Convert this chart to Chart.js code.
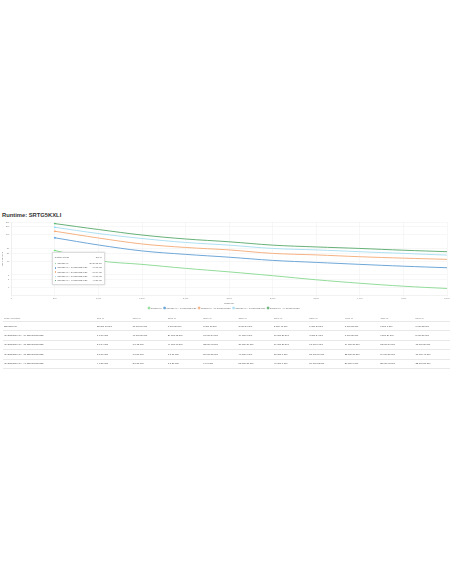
<!DOCTYPE html>
<html>
<head>
<meta charset="utf-8">
<script src="https://cdn.jsdelivr.net/npm/chart.js@4.4.0/dist/chart.umd.min.js"></script>
<style>
  body { margin: 0; background: #fff; font-family: "Liberation Sans", Arial, sans-serif; width: 452px; height: 584px; overflow: hidden; position: relative; }
  #title { position: absolute; left: 2px; top: 211.5px; font-size: 5.8px; font-weight: bold; color: #333; }
  #wrap { position: absolute; left: 0; top: 219px; width: 452px; height: 100px; }
  #tip { position: absolute; background: #fff; border: 0.5px solid #ddd; box-shadow: 0 0 2px rgba(0,0,0,0.15); font-size: 2px; color: #555; padding: 2px 2px; display: none; width: 47px; }
  #tip .r { display: flex; justify-content: space-between; height: 4.3px; line-height: 4.3px; white-space: nowrap; }
  #tip .h { margin-bottom: 1.8px; }
  #tip i { display: inline-block; width: 1.6px; height: 1.6px; margin-right: 1px; vertical-align: middle; }
  #tbl { position: absolute; left: 3px; top: 315px; width: 447px; border-collapse: collapse; font-size: 2.4px; color: #444; }
  #tbl td, #tbl th { text-align: left; font-weight: normal; height: 8.4px; padding: 0 0 0 1px; border-bottom: 0.5px solid #e8e8e8; white-space: nowrap; }
  #tbl th { color: #777; height: 6px; }
  #tbl td:first-child, #tbl th:first-child { width: 92px; }
</style>
</head>
<body>
<div id="title">Runtime: SRTG5KXLI</div>
<div id="wrap"><canvas id="runtimeChart"></canvas></div>
<div id="tip"></div>
<table id="tbl"></table>
<script>
// Last in Watt
const loads = [500, 1000, 1500, 2000, 2500, 3000, 3500, 4000, 4500, 5000];

// Laufzeit in Minuten
const seriesNames = [
  'SRTG5KXLI',
  'SRTG5KXLI + 1x SRTG192XLBP',
  'SRTG5KXLI + 2x SRTG192XLBP',
  'SRTG5KXLI + 3x SRTG192XLBP',
  'SRTG5KXLI + 4x SRTG192XLBP'
];
const rowNames = [
  'SRTG5KXLI',
  '(1) SRTG5KXLI + (1) SRTG192XLBP',
  '(1) SRTG5KXLI + (2) SRTG192XLBP',
  '(1) SRTG5KXLI + (3) SRTG192XLBP',
  '(1) SRTG5KXLI + (4) SRTG192XLBP'
];
const runtime0 = [25.3, 10.4, 7.5, 5.3, 3.9, 2.8, 1.96, 1.45, 1.12, 0.92];
const runtime1 = [75.8, 40.6, 24.2, 17.9, 14.0, 10.6, 8.9, 7.5, 6.4, 5.6];
const runtime2 = [134, 74.5, 44.3, 32.7, 26.4, 19.5, 17.1, 14.6, 12.9, 11.6];
const runtime3 = [190, 110, 71.3, 50.5, 40, 30, 26.4, 22.6, 19.5, 16.8];
const runtime4 = [261, 156, 96.6, 68.4, 53.6, 40, 34.2, 30, 25.7, 22.6];
const colors = ['#93dc9a', '#6fa7d8', '#f5b283', '#aee0f2', '#67b179'];

// Achsen
const xTicks = [0, 500, 1000, 1500, 2000, 2500, 3000, 3500, 4000, 4500, 5000];
const yTicks = [1, 2, 3, 10, 20, 30, 100, 200, 300];

const allRuntimes = [runtime0, runtime1, runtime2, runtime3, runtime4];

function fmtTime(min) {
  if (min >= 60) {
    const h = Math.floor(min / 60);
    const m = Math.round(min - h * 60);
    return h + ' h ' + m + ' min';
  }
  const m = Math.floor(min);
  const s = Math.round((min - m) * 60);
  return m + ' min ' + s + ' sec';
}

// Tabelle
let html = '<tr><th>Load / Runtime</th>' + loads.map(l => '<th>' + l + ' W</th>').join('') + '</tr>';
allRuntimes.forEach((arr, i) => {
  html += '<tr><td>' + rowNames[i] + '</td>' + arr.map(v => '<td>' + fmtTime(v) + '</td>').join('') + '</tr>';
});
document.getElementById('tbl').innerHTML = html;

function externalTip(context) {
  const tip = document.getElementById('tip');
  const model = context.tooltip;
  if (model.opacity === 0) { tip.style.display = 'none'; return; }
  const idx = model.dataPoints[0].dataIndex;
  let h = '<div class="r h"><span>Runtime at load</span><span>' + loads[idx] + ' W</span></div>';
  model.dataPoints.forEach(dp => {
    h += '<div class="r"><span><i style="background:' + colors[dp.datasetIndex] + '"></i>' + seriesNames[dp.datasetIndex] + '</span><span>' + fmtTime(dp.raw.y) + '</span></div>';
  });
  tip.innerHTML = h;
  const box = context.chart.canvas.getBoundingClientRect();
  const first = model.dataPoints[0].element;
  tip.style.display = 'block';
  tip.style.left = (box.left + first.x - 3) + 'px';
  tip.style.top = (box.top + first.y + 1.5) + 'px';
}

const ctx = document.getElementById('runtimeChart').getContext('2d');
const chart = new Chart(ctx, {
  type: 'line',
  data: {
    datasets: allRuntimes.map((arr, i) => ({
      label: seriesNames[i],
      data: arr.map((v, j) => ({ x: loads[j], y: v })),
      borderColor: colors[i],
      backgroundColor: colors[i],
      borderWidth: 1,
      pointRadius: 0,
      pointHoverRadius: 0.6,
      pointHoverBorderWidth: 0.5,
      tension: 0.35
    }))
  },
  options: {
    responsive: true,
    maintainAspectRatio: false,
    animation: false,
    layout: { padding: { left: 1, right: 5, top: 3, bottom: 0 } },
    interaction: { mode: 'index', intersect: false },
    plugins: {
      legend: {
        position: 'bottom',
        labels: { boxWidth: 1.6, boxHeight: 1.6, padding: 2, font: { size: 2 }, color: '#666' }
      },
      tooltip: { enabled: false, external: externalTip }
    },
    scales: {
      x: {
        type: 'linear',
        min: 0,
        max: 5000,
        afterBuildTicks: s => { s.ticks = xTicks.map(v => ({ value: v })); },
        grid: { color: '#eeeeee', lineWidth: 0.5, tickLength: 1 },
        border: { color: '#e4e4e4', width: 0.5 },
        ticks: { font: { size: 2.2 }, color: '#888', padding: 1, maxRotation: 0 },
        title: { display: true, text: 'Load (W)', font: { size: 2.4 }, color: '#555', padding: 0.5 }
      },
      y: {
        type: 'logarithmic',
        min: 0.5,
        max: 300,
        afterBuildTicks: s => { s.ticks = yTicks.map(v => ({ value: v })); },
        grid: { color: '#eeeeee', lineWidth: 0.5, tickLength: 1 },
        border: { color: '#e4e4e4', width: 0.5 },
        ticks: { font: { size: 2.2 }, color: '#888', padding: 1, callback: v => String(v) },
        title: { display: true, text: 'Runtime (min)', font: { size: 2.2 }, color: '#555', padding: 0.5 }
      }
    }
  }
});

// Tooltip beim ersten Lastpunkt anzeigen (wie im Screenshot)
const act = allRuntimes.map((a, i) => ({ datasetIndex: i, index: 0 }));
chart.setActiveElements(act);
chart.tooltip.setActiveElements(act, { x: 0, y: 0 });
chart.update();
</script>
</body>
</html>
